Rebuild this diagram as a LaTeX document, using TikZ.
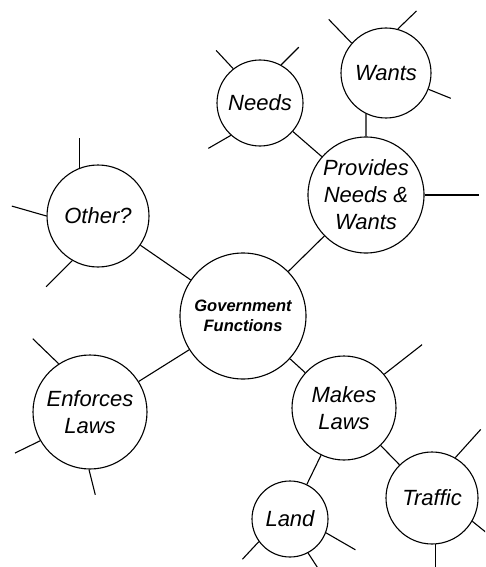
\documentclass[tikz,border=0pt]{standalone}
\usepackage{fontspec}
\setmainfont{Liberation Sans}

\begin{document}
\begin{tikzpicture}[x=1pt, y=1pt,
    bubble/.style={draw, circle, line width=1.1pt, inner sep=0pt, align=center,
                   font=\fontsize{22}{27}\selectfont\itshape},
    spoke/.style={line width=1.1pt}]  % one line width for every stroke

    % Fix the frame to the size of the page
    \useasboundingbox (0,0) rectangle (485,-567);
    \clip (0,0) rectangle (485,-567);

    % Bubbles (centre and size taken from the sheet)
    \node[bubble, minimum size=126pt,
          font=\fontsize{16.5}{20}\selectfont\bfseries\itshape] (gov) at (243,-316) {Government\\Functions};  % middle
    \node[bubble, minimum size=102pt] (other) at (98,-216) {Other?};                 % upper left
    \node[bubble, minimum size=114pt] (enforce) at (90,-412) {Enforces\\Laws};       % lower left
    \node[bubble, minimum size=116pt] (provide) at (366,-195) {Provides\\Needs \&\\Wants};  % upper right
    \node[bubble, minimum size=86pt] (needs) at (260,-103) {Needs};
    \node[bubble, minimum size=90pt] (wants) at (386,-73) {Wants};
    \node[bubble, minimum size=104pt] (makes) at (344,-408) {Makes\\Laws};         % lower right
    \node[bubble, minimum size=76pt] (land) at (290,-519) {Land};
    \node[bubble, minimum size=92pt] (traffic) at (432,-498) {Traffic};

    % Links between the bubbles
    \draw[spoke] (other) -- (gov);
    \draw[spoke] (enforce) -- (gov);
    \draw[spoke] (provide) -- (gov);
    \draw[spoke] (makes) -- (gov);
    \draw[spoke] (needs) -- (provide);
    \draw[spoke] (wants.244) -- (provide.north);
    \draw[spoke] (makes) -- (land);
    \draw[spoke] (makes) -- (traffic);

    % Empty spokes left open for more ideas
    \draw[spoke] (other.111) -- +(90:30);
    \draw[spoke] (other.180) -- +(164:36);
    \draw[spoke] (other.240) -- +(225:37);

    \draw[spoke] (needs.128) -- +(133:25);
    \draw[spoke] (needs.228) -- +(210:26);
    \draw[spoke] (needs.61) -- +(45:25);

    \draw[spoke] (wants.139) -- +(134:33);
    \draw[spoke] (wants.75) -- +(44:26);
    \draw[spoke] (wants.-21) -- +(-22:24);

    \draw[spoke] (provide.0) -- +(0:54);

    \draw[spoke] (enforce.123) -- +(136:36);
    \draw[spoke] (enforce.210) -- +(206:28);
    \draw[spoke] (enforce.269) -- +(284:26);

    \draw[spoke] (makes.40) -- +(38:48);

    \draw[spoke] (land.216) -- +(227:24);
    \draw[spoke] (land.-21) -- +(-30:34);
    \draw[spoke] (land.-62) -- +(-57:20);

    \draw[spoke] (traffic.60) -- +(48:38);
    \draw[spoke] (traffic.-30) -- +(-39:20);
    \draw[spoke] (traffic.-86) -- +(-90:30);

\end{tikzpicture}
\end{document}
